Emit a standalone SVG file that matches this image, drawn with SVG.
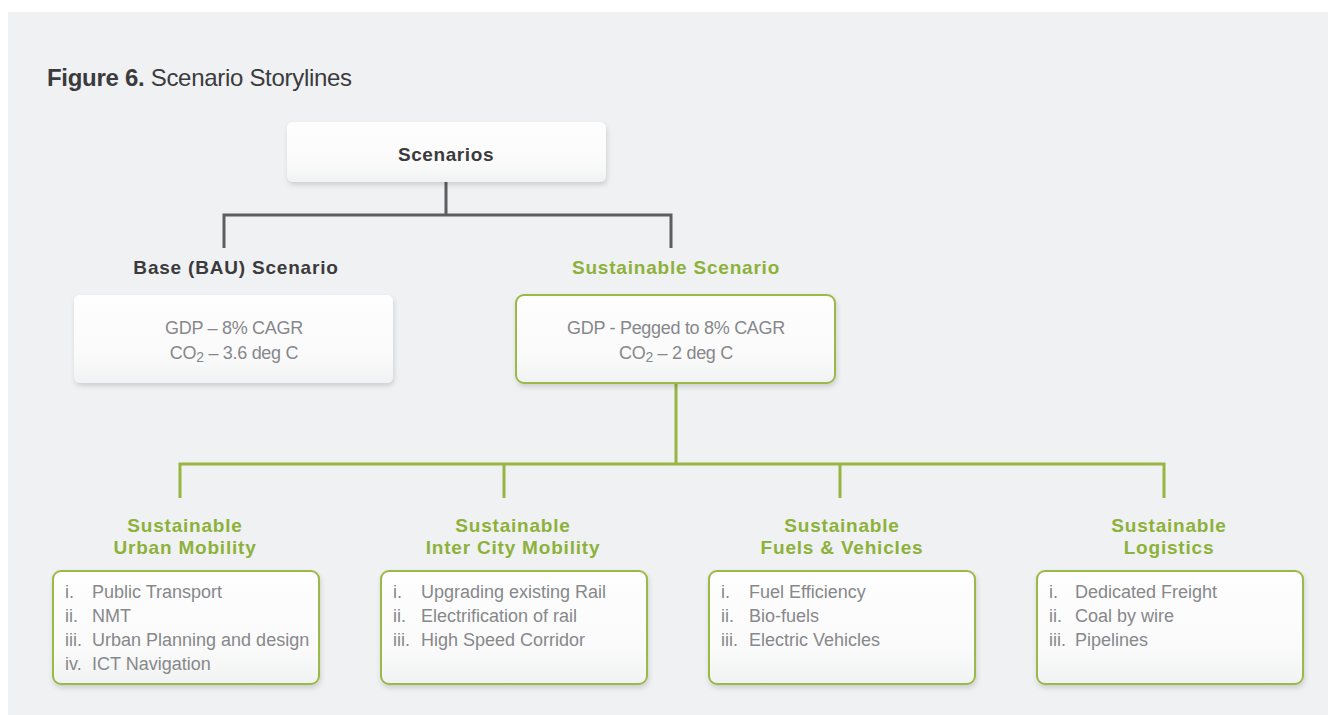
<svg xmlns="http://www.w3.org/2000/svg" width="1328" height="715" viewBox="0 0 1328 715">
  <style>
    .txt { font-family: "Liberation Sans", Arial, sans-serif; }
    .title-b { font-weight: bold; font-size: 24px; fill: #3b3b3d; letter-spacing: -0.3px; }
    .title-r { font-size: 24px; fill: #3b3b3d; letter-spacing: -0.3px; }
    .head-dark { font-weight: bold; font-size: 19px; fill: #3b3b3d; letter-spacing: 0.8px; text-anchor: middle; }
    .head-green { font-weight: bold; font-size: 19px; fill: #8db13a; letter-spacing: 0.8px; text-anchor: middle; }
    .body { font-size: 18px; fill: #87888b; }
    .mid { text-anchor: middle; letter-spacing: -0.3px; }
    .card { fill: url(#cardFill); filter: url(#shadow); }
    .card-green { fill: url(#cardFill); stroke: #9ab948; stroke-width: 2; filter: url(#shadow); }
    .link-gray { fill: none; stroke: #5b5e62; stroke-width: 3; }
    .link-green { fill: none; stroke: #98b540; stroke-width: 3; }
  </style>
  <defs>
    <linearGradient id="cardFill" x1="0" y1="0" x2="0" y2="1">
      <stop offset="0" stop-color="#fefefe"/>
      <stop offset="0.7" stop-color="#fafafa"/>
      <stop offset="1" stop-color="#f1f2f3"/>
    </linearGradient>
    <filter id="shadow" x="-10%" y="-10%" width="125%" height="135%">
      <feDropShadow dx="1" dy="3" stdDeviation="2.5" flood-color="#000" flood-opacity="0.14"/>
    </filter>
  </defs>

  <!-- page panel -->
  <rect x="0" y="0" width="1328" height="715" fill="#ffffff"/>
  <rect x="8" y="12" width="1320" height="703" fill="#f0f1f3"/>

  <!-- heading -->
  <text class="txt" x="47" y="86"><tspan class="title-b">Figure 6.</tspan><tspan class="title-r"> Scenario Storylines</tspan></text>

  <!-- connectors -->
  <g id="connectors">
    <path class="link-gray" d="M446 182 V215 M224 248 V215 H671 V248"/>
    <path class="link-green" d="M676 383 V464 M180 498 V464 H1164 V498 M504 464 V498 M840 464 V498"/>
  </g>

  <!-- root -->
  <g id="scenarios">
    <rect class="card" x="287" y="122" width="319" height="60" rx="6"/>
    <text class="txt head-dark" x="446" y="161" style="letter-spacing:0.6px">Scenarios</text>
  </g>

  <!-- business as usual -->
  <g id="base-scenario">
    <text class="txt head-dark" x="236" y="274">Base (BAU) Scenario</text>
    <rect class="card" x="74" y="295" width="319" height="88" rx="6"/>
    <text class="txt body mid" x="234" y="334">GDP – 8% CAGR</text>
    <text class="txt body mid" x="234" y="359">CO<tspan font-size="14" dy="3">2</tspan><tspan dy="-3"> – 3.6 deg C</tspan></text>
  </g>

  <!-- sustainable scenario -->
  <g id="sustainable-scenario">
    <text class="txt head-green" x="676" y="274">Sustainable Scenario</text>
    <rect class="card-green" x="516" y="295" width="319" height="88" rx="8"/>
    <text class="txt body mid" x="676" y="334">GDP - Pegged to 8% CAGR</text>
    <text class="txt body mid" x="676" y="359">CO<tspan font-size="14" dy="3">2</tspan><tspan dy="-3"> – 2 deg C</tspan></text>
  </g>

  <!-- leaf: urban mobility -->
  <g id="urban-mobility">
    <text class="txt head-green" x="185" y="532">Sustainable</text>
    <text class="txt head-green" x="185" y="554">Urban Mobility</text>
    <rect class="card-green" x="53" y="571" width="266" height="113" rx="8"/>
    <text class="txt body" y="598"><tspan x="65">i.</tspan><tspan x="92">Public Transport</tspan></text>
    <text class="txt body" y="622"><tspan x="65">ii.</tspan><tspan x="92">NMT</tspan></text>
    <text class="txt body" y="646"><tspan x="65">iii.</tspan><tspan x="92">Urban Planning and design</tspan></text>
    <text class="txt body" y="670"><tspan x="65">iv.</tspan><tspan x="92">ICT Navigation</tspan></text>
  </g>

  <!-- leaf: inter city mobility -->
  <g id="inter-city-mobility">
    <text class="txt head-green" x="513" y="532">Sustainable</text>
    <text class="txt head-green" x="513" y="554">Inter City Mobility</text>
    <rect class="card-green" x="381" y="571" width="266" height="113" rx="8"/>
    <text class="txt body" y="598"><tspan x="393">i.</tspan><tspan x="421">Upgrading existing Rail</tspan></text>
    <text class="txt body" y="622"><tspan x="393">ii.</tspan><tspan x="421">Electrification of rail</tspan></text>
    <text class="txt body" y="646"><tspan x="393">iii.</tspan><tspan x="421">High Speed Corridor</tspan></text>
  </g>

  <!-- leaf: fuels and vehicles -->
  <g id="fuels-vehicles">
    <text class="txt head-green" x="842" y="532">Sustainable</text>
    <text class="txt head-green" x="842" y="554">Fuels &amp; Vehicles</text>
    <rect class="card-green" x="709" y="571" width="266" height="113" rx="8"/>
    <text class="txt body" y="598"><tspan x="721">i.</tspan><tspan x="749">Fuel Efficiency</tspan></text>
    <text class="txt body" y="622"><tspan x="721">ii.</tspan><tspan x="749">Bio-fuels</tspan></text>
    <text class="txt body" y="646"><tspan x="721">iii.</tspan><tspan x="749">Electric Vehicles</tspan></text>
  </g>

  <!-- leaf: logistics -->
  <g id="logistics">
    <text class="txt head-green" x="1169" y="532">Sustainable</text>
    <text class="txt head-green" x="1169" y="554">Logistics</text>
    <rect class="card-green" x="1037" y="571" width="266" height="113" rx="8"/>
    <text class="txt body" y="598"><tspan x="1049">i.</tspan><tspan x="1075">Dedicated Freight</tspan></text>
    <text class="txt body" y="622"><tspan x="1049">ii.</tspan><tspan x="1075">Coal by wire</tspan></text>
    <text class="txt body" y="646"><tspan x="1049">iii.</tspan><tspan x="1075">Pipelines</tspan></text>
  </g>
</svg>
